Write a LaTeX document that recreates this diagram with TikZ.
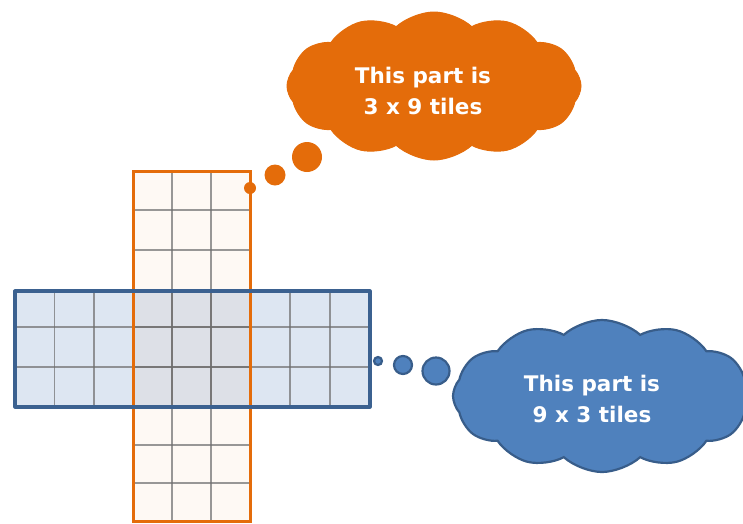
\documentclass[tikz,border=0pt]{standalone}
\usepackage{fontspec}
\setmainfont{DejaVu Sans}
\usetikzlibrary{shapes.symbols}

\definecolor{stripline}{HTML}{E46C0A}
\definecolor{bandfill}{HTML}{DDE6F2}
\definecolor{bandline}{HTML}{3B6190}
\definecolor{gridgray}{HTML}{6E6E6E}
\definecolor{cloudblue}{HTML}{4F81BD}
\definecolor{cloudedge}{HTML}{385D8A}

\tikzset{
  gridline/.style={draw=gridgray, line width=1.1pt, draw opacity=0.7},
  stripborder/.style={draw=stripline, line width=3pt},
  bandborder/.style={draw=bandline, line width=3.2pt, line join=round},
  cloudbase/.style={cloud, cloud puffs=12, cloud puff arc=85, cloud ignores aspect, inner sep=0pt},
  orangecloud/.style={cloudbase, fill=stripline, draw=stripline, line width=1pt},
  bluecloud/.style={cloudbase, fill=cloudblue, draw=cloudedge, line width=2.2pt},
  cloudtext/.style={text=white, font=\bfseries\fontsize{21.5}{31}\selectfont, align=center, inner sep=0pt},
  orangedot/.style={circle, fill=stripline, draw=none, inner sep=0pt},
  bluedot/.style={circle, fill=cloudblue, draw=cloudedge, line width=2.2pt, inner sep=0pt},
}

\begin{document}
\begin{tikzpicture}[x=1pt,y=-1pt]
\useasboundingbox (0,0) rectangle (743,523);

% horizontal band, 9 x 3 tiles: fill and grid
\fill[bandfill] (15,291) rectangle (370,407);
\foreach \xx in {54.5,94,133,172,211,250,290,330}
  \draw[gridline] (\xx,291) -- (\xx,407);
\foreach \yy in {327,367}
  \draw[gridline] (15,\yy) -- (370,\yy);

% vertical strip, 3 x 9 tiles (translucent over the band)
\fill[stripline, fill opacity=0.045] (133,171) rectangle (250,521);
\foreach \xx in {172,211}
  \draw[gridline] (\xx,171) -- (\xx,521);
\foreach \yy in {210,250,291,327,367,407,445,483}
  \draw[gridline] (133,\yy) -- (250,\yy);
\draw[stripborder] (133,171) rectangle (250,521);

% band outline on top
\draw[bandborder] (15,291) rectangle (370,407);

% thought clouds
\node[orangecloud, minimum width=294pt, minimum height=148pt] (tallcloud) at (434,86) {};
\node[cloudtext] (talltext) at (423,91) {This part is\\3 x 9 tiles};

\node[bluecloud, minimum width=298pt, minimum height=152pt] (widecloud) at (602,396) {};
\node[cloudtext] (widetext) at (592,399) {This part is\\9 x 3 tiles};

% bubble trails
\node[orangedot, minimum size=12pt] (od1) at (250,188) {};
\node[orangedot, minimum size=21pt] (od2) at (275,175) {};
\node[orangedot, minimum size=30pt] (od3) at (307,157) {};

\node[bluedot, minimum size=8pt]  (bd1) at (378,361) {};
\node[bluedot, minimum size=18pt] (bd2) at (403,365) {};
\node[bluedot, minimum size=27pt] (bd3) at (436,371) {};
\end{tikzpicture}
\end{document}
